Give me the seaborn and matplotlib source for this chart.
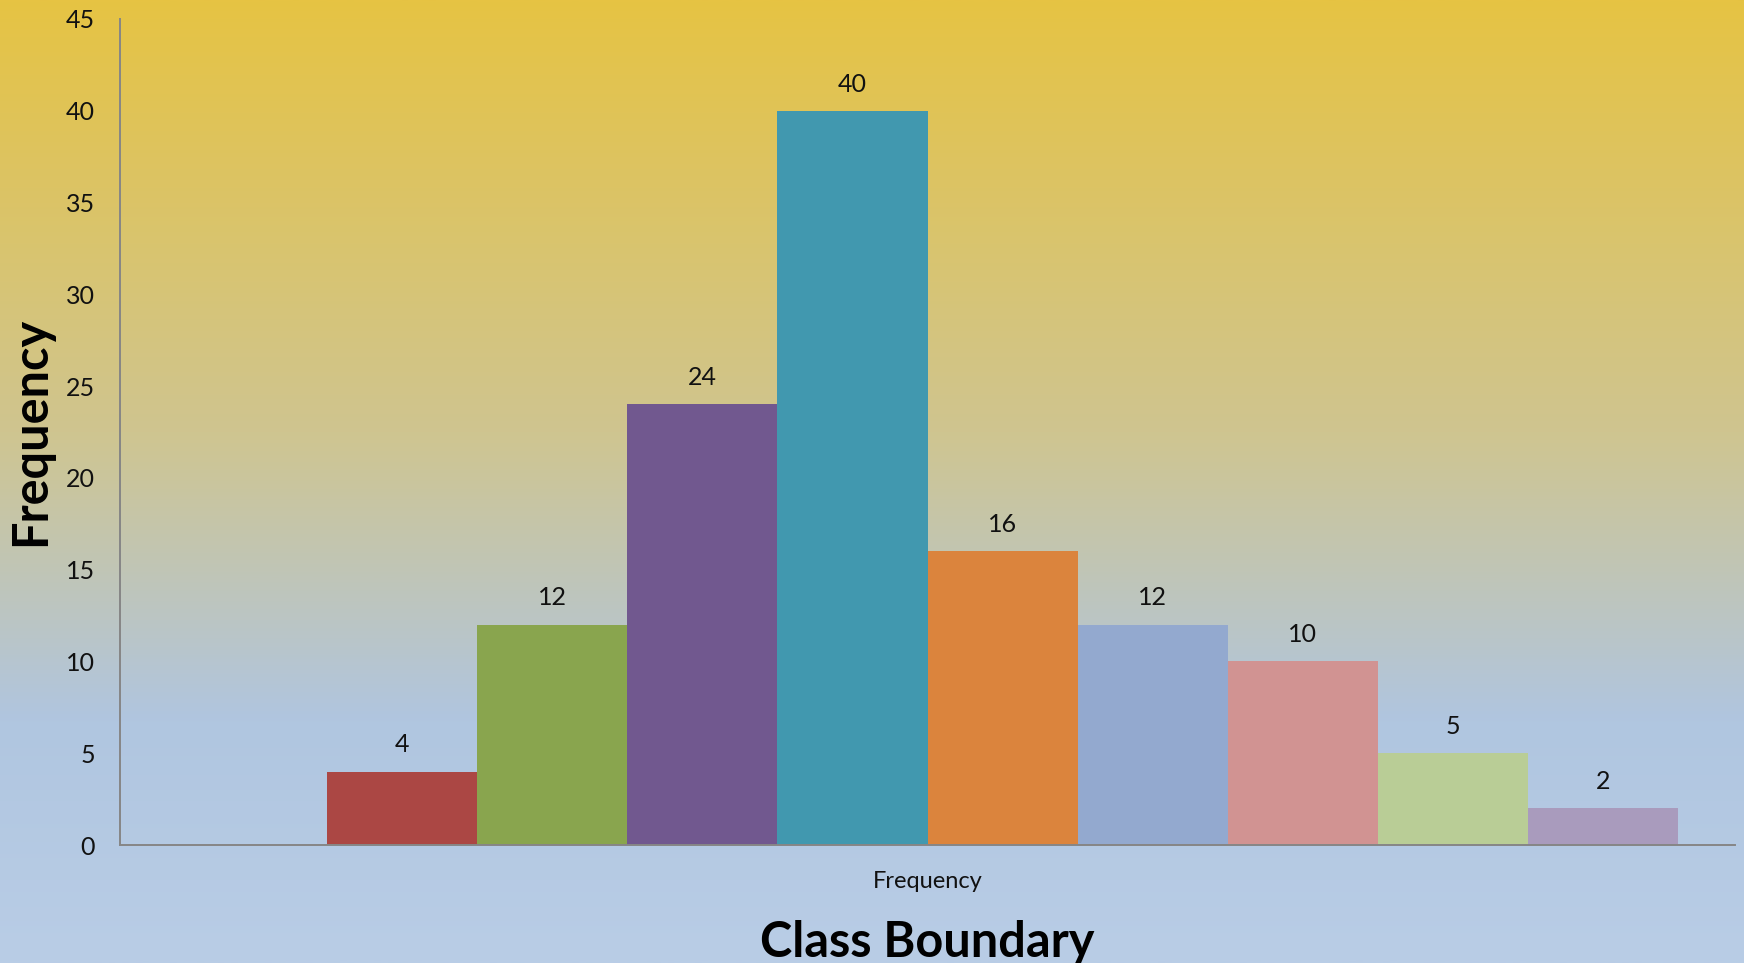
import numpy as np
import pandas as pd
import matplotlib
matplotlib.use("Agg")
import matplotlib.pyplot as plt
from matplotlib.colors import LinearSegmentedColormap
import seaborn as sns

# ---- data ----
classes = ["C1", "C2", "C3", "C4", "C5", "C6", "C7", "C8", "C9"]
frequencies = [4, 12, 24, 40, 16, 12, 10, 5, 2]
bar_colors = ["#AB4744", "#89A54E", "#71588F", "#4198AF", "#DB843D",
              "#93A9CF", "#D19392", "#B9CD96", "#A99BBD"]
y_ticks = [0, 5, 10, 15, 20, 25, 30, 35, 40, 45]
x_tick_label = "Frequency"
x_title = "Class Boundary"
y_title = "Frequency"

sns.set_theme(style="white")
plt.rcParams["font.family"] = ["Lato", "DejaVu Sans"]

fig = plt.figure(figsize=(17.44, 9.63), dpi=100)

# gradient background
bg = fig.add_axes([0, 0, 1, 1], zorder=-10)
cmap = LinearSegmentedColormap.from_list(
    "bg", [(0.0, "#E6C343"), (0.45, "#CFC590"), (0.75, "#B0C6E0"), (1.0, "#B9CDE6")])
grad = np.linspace(0, 1, 512).reshape(-1, 1)
bg.imshow(grad, aspect="auto", cmap=cmap, extent=[0, 1, 0, 1], origin="upper")
bg.set_axis_off()

ax = fig.add_axes([120 / 1744, (963 - 845) / 963, (1735 - 120) / 1744, (845 - 19) / 963])
ax.patch.set_alpha(0)

df = pd.DataFrame({"cls": classes, "freq": frequencies})
sns.barplot(data=df, x="cls", y="freq", hue="cls", palette=bar_colors,
            width=1.0, saturation=1, legend=False, ax=ax, linewidth=0)

for cont in ax.containers:
    ax.bar_label(cont, padding=11, fontsize=18, color="#111111")

ax.set_xlim(-1.88, 8.88)
ax.set_ylim(0, 45)
ax.set_yticks(y_ticks)
ax.set_yticklabels([str(t) for t in y_ticks])
ax.set_xticks([3.5])
ax.set_xticklabels([x_tick_label])
ax.tick_params(axis="y", length=0, pad=18, labelsize=18, labelcolor="#111111")
ax.tick_params(axis="x", length=0, pad=19, labelsize=17, labelcolor="#111111")
ax.set_xlabel("")
ax.set_ylabel("")

for s in ["top", "right"]:
    ax.spines[s].set_visible(False)
for s in ["left", "bottom"]:
    ax.spines[s].set_color("#868686")
    ax.spines[s].set_linewidth(1.4)

fig.text(927 / 1744, 0.006, x_title, ha="center", va="baseline",
         fontsize=35, fontweight="bold", color="black")
fig.text(31 / 1744, (963 - 431) / 963, y_title, ha="center", va="center",
         rotation=90, fontsize=35, fontweight="bold", color="black")

fig.savefig("out.png", dpi=100)
